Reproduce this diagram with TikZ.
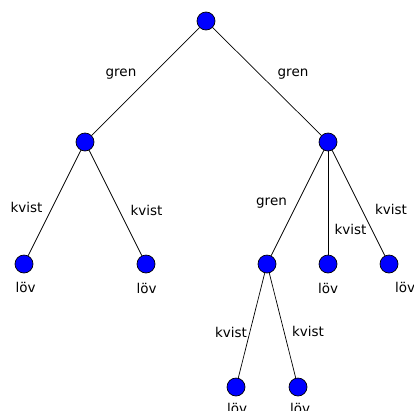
\documentclass[tikz,border=0pt]{standalone}
\usepackage{fontspec}
\setmainfont{DejaVu Sans}
\usetikzlibrary{positioning}

\begin{document}
\begin{tikzpicture}[x=1pt, y=-1pt,
  knot/.style={draw, circle, fill=blue, inner sep=0pt,
               minimum size=18pt, line width=0.7pt},
  branch/.style={draw, line width=0.7pt},
  lbl/.style={font=\fontsize{13.5}{16}\selectfont, inner sep=0pt,
              anchor=base}
]
  \useasboundingbox (0,0) rectangle (414,410);

  \node[knot] (root) at (206,21)  {};
  \node[knot] (L)    at (85,142)  {};
  \node[knot] (R)    at (328,142) {};
  \node[knot] (L1)   at (24,264)  {};
  \node[knot] (L2)   at (146,264) {};
  \node[knot] (R1)   at (267,264) {};
  \node[knot] (R2)   at (328,264) {};
  \node[knot] (R3)   at (389,264) {};
  \node[knot] (R11)  at (236,387) {};
  \node[knot] (R12)  at (298,387) {};

  \draw[branch] (root) -- (L);
  \draw[branch] (root) -- (R);
  \draw[branch] (L) -- (L1);
  \draw[branch] (L) -- (L2);
  \draw[branch] (R) -- (R1);
  \draw[branch] (R) -- (R2);
  \draw[branch] (R) -- (R3);
  \draw[branch] (R1) -- (R11);
  \draw[branch] (R1) -- (R12);

  % edge labels
  \node[lbl] (gL)  at (121,76)   {gren};
  \node[lbl] (gR)  at (293,76)   {gren};
  \node[lbl] (kL1) at (26.5,212) {kvist};
  \node[lbl] (kL2) at (146.5,215){kvist};
  \node[lbl] (gR1) at (271.5,205){gren};
  \node[lbl] (kR2) at (350.5,234){kvist};
  \node[lbl] (kR3) at (391,214)  {kvist};
  \node[lbl] (kR11) at (231,337) {kvist};
  \node[lbl] (kR12) at (308,336) {kvist};

  % leaf labels
  \node[lbl] (vL1)  at (25.5,292.5) {löv};
  \node[lbl] (vL2)  at (146.5,293.5){löv};
  \node[lbl] (vR2)  at (328,293)    {löv};
  \node[lbl] (vR3)  at (405,292)    {löv};
  \node[lbl] (vR11) at (237,413)    {löv};
  \node[lbl] (vR12) at (300,413)    {löv};
\end{tikzpicture}
\end{document}
